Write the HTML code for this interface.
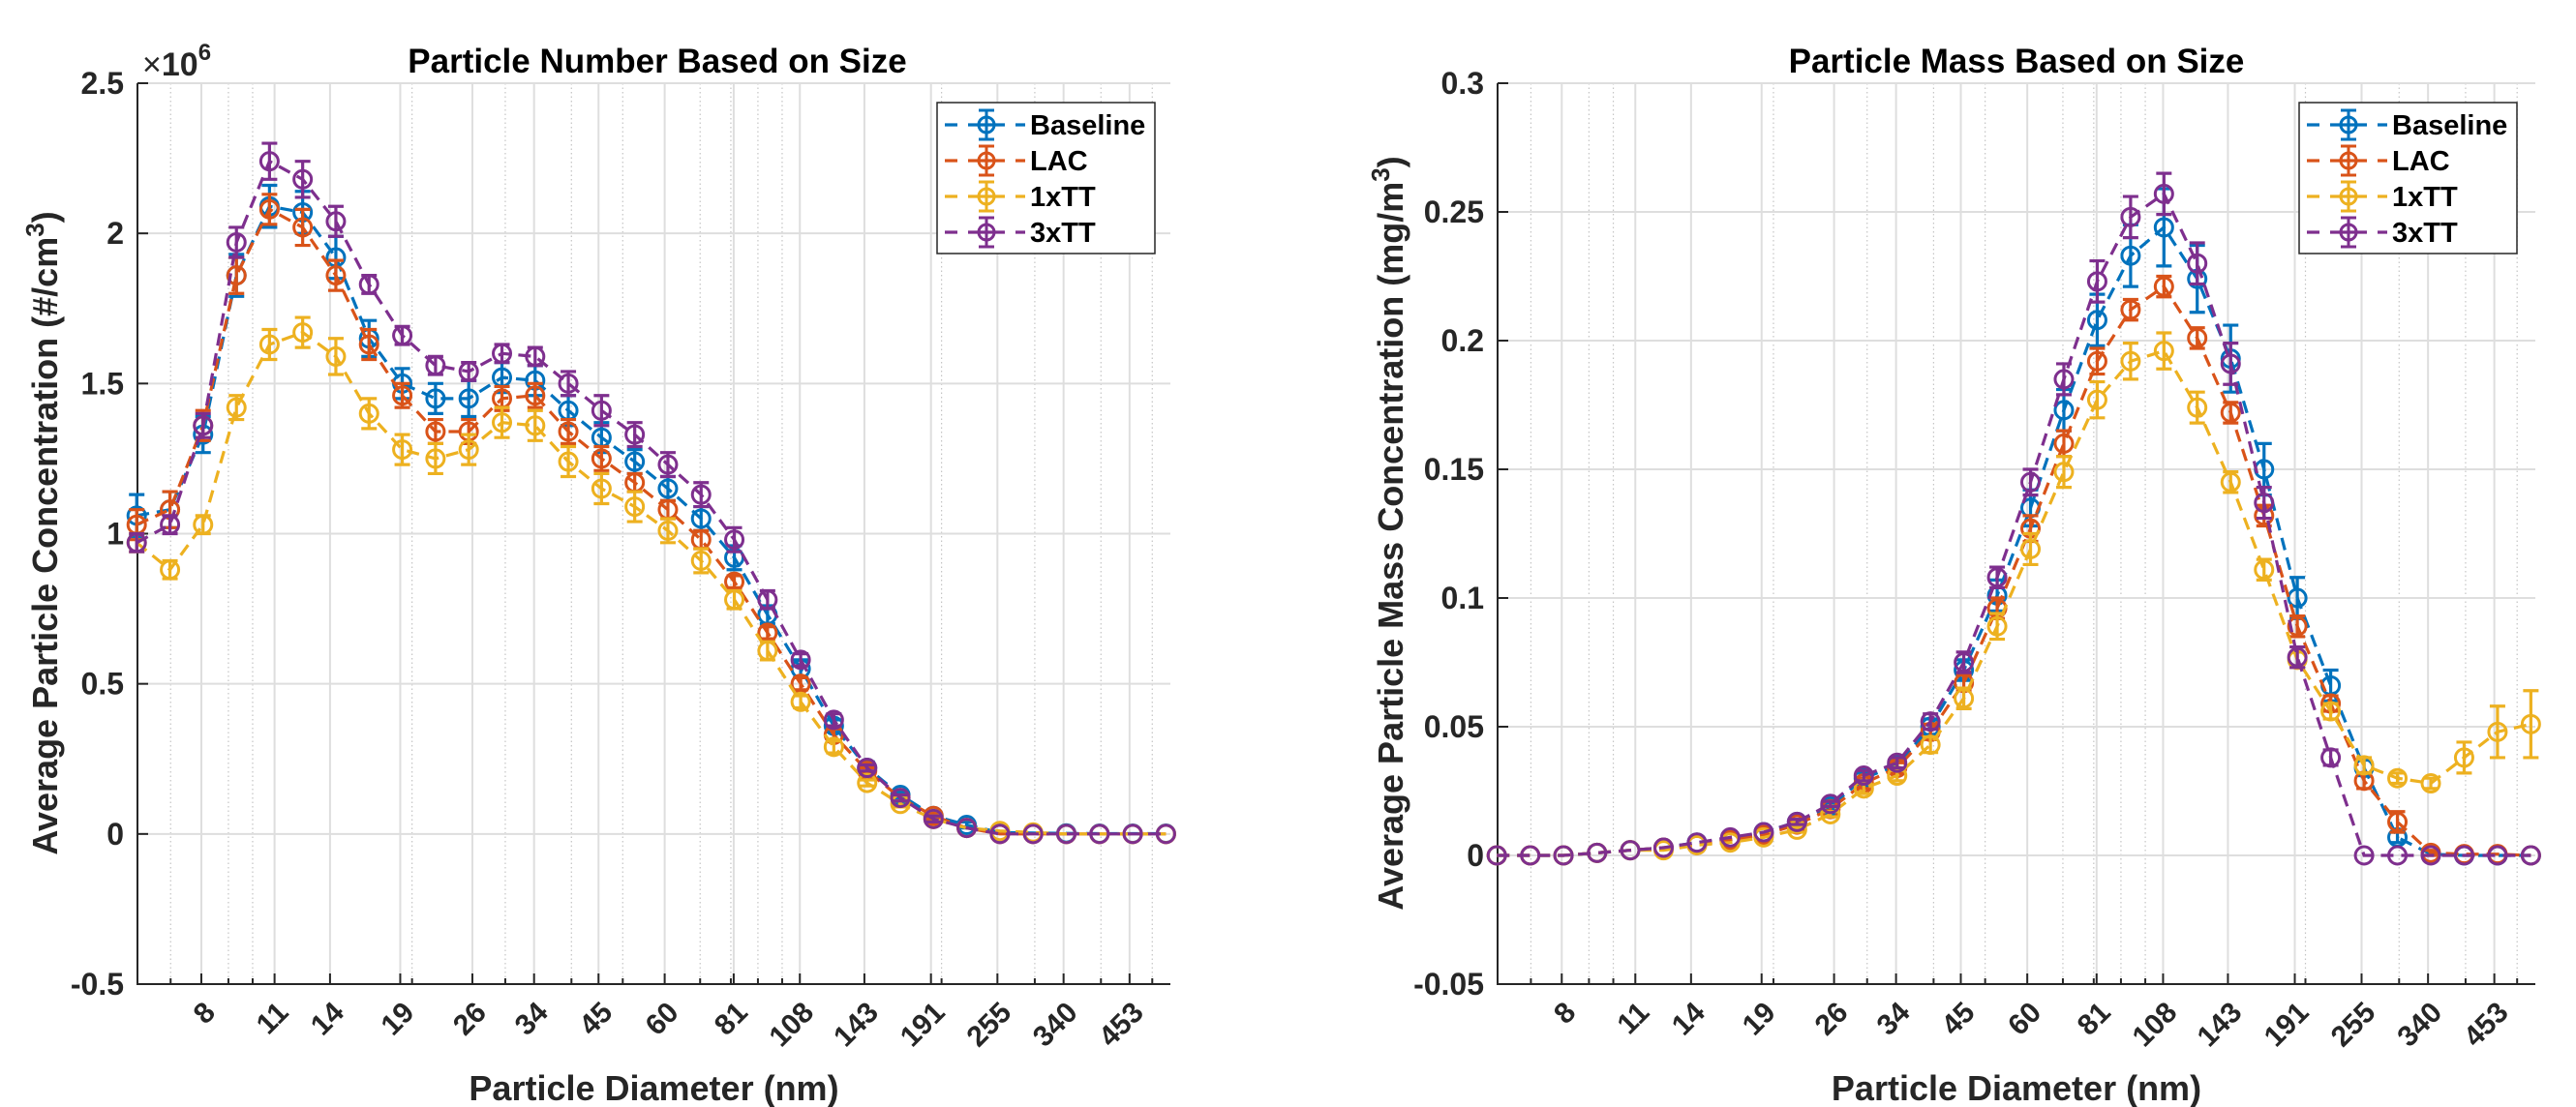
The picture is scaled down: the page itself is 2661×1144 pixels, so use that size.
<!DOCTYPE html>
<html><head><meta charset="utf-8"><style>
html,body{margin:0;padding:0;background:#fff}
svg{display:block;font-family:"Liberation Sans",Arial,sans-serif}
</style></head><body>
<svg id="fig" width="2661" height="1144" viewBox="0 0 2661 1144"></svg>
<script>
const diameters=[6.04,6.98,8.06,9.32,10.76,12.43,14.36,16.59,19.17,22.15,25.59,29.57,34.16,39.46,45.59,52.67,60.85,70.30,81.22,93.84,108.4,125.2,144.7,167.2,193.1,223.1,257.8,297.8,344.1,397.5,459.3,530.6];
const tickValues=[8,11,14,19,26,34,45,60,81,108,143,191,255,340,453];
const tickLabels=["8","11","14","19","26","34","45","60","81","108","143","191","255","340","453"];
const minorTicks=[7,9,10,20,30,40,50,70,80,90,100,200,300,400,500];
const seriesNames=["Baseline","LAC","1xTT","3xTT"];
const numBaseline=[1.06,1.08,1.33,1.86,2.09,2.07,1.92,1.65,1.50,1.45,1.45,1.52,1.51,1.41,1.32,1.24,1.15,1.05,0.92,0.73,0.55,0.36,0.22,0.13,0.06,0.03,0.005,0.003,0.002,0.001,0.001,0.001];
const numLAC=[1.03,1.08,1.36,1.86,2.08,2.02,1.86,1.63,1.46,1.34,1.34,1.45,1.46,1.34,1.25,1.17,1.08,0.98,0.84,0.67,0.50,0.33,0.21,0.12,0.06,0.02,0,0,0,0,0,0];
const num1xTT=[0.97,0.88,1.03,1.42,1.63,1.67,1.59,1.40,1.28,1.25,1.28,1.37,1.36,1.24,1.15,1.09,1.01,0.91,0.78,0.61,0.44,0.29,0.17,0.10,0.05,0.02,0.01,0.005,0,0,0,0];
const num3xTT=[0.97,1.03,1.36,1.97,2.24,2.18,2.04,1.83,1.66,1.56,1.54,1.60,1.59,1.50,1.41,1.33,1.23,1.13,0.98,0.78,0.58,0.38,0.22,0.12,0.05,0.02,0,0,0,0,0,0];
const numErrBaseline=[0.07,0.06,0.06,0.07,0.07,0.07,0.07,0.06,0.05,0.05,0.06,0.05,0.05,0.05,0.05,0.04,0.04,0.04,0.04,0.03,0.03,0.02,0.02,0.01,0.01,0.01,0,0,0,0,0,0];
const numErrLAC=[0.05,0.06,0.05,0.06,0.05,0.06,0.05,0.05,0.04,0.04,0.04,0.04,0.04,0.04,0.04,0.03,0.03,0.03,0.02,0.02,0.02,0.02,0.01,0.01,0.01,0,0,0,0,0,0,0];
const numErr1xTT=[0.03,0.03,0.03,0.04,0.05,0.05,0.06,0.05,0.05,0.05,0.05,0.05,0.05,0.05,0.05,0.05,0.04,0.04,0.03,0.03,0.02,0.02,0.01,0.01,0.01,0,0,0,0,0,0,0];
const numErr3xTT=[0.03,0.03,0.04,0.05,0.06,0.06,0.05,0.03,0.03,0.03,0.03,0.03,0.03,0.04,0.05,0.04,0.04,0.04,0.04,0.03,0.02,0.02,0.01,0.01,0.01,0,0,0,0,0,0,0];
const massBaseline=[0,0,0,0.001,0.002,0.003,0.005,0.006,0.009,0.013,0.019,0.030,0.035,0.050,0.072,0.101,0.135,0.173,0.208,0.233,0.244,0.224,0.193,0.150,0.100,0.066,0.034,0.007,0.0005,0,0,0];
const massLAC=[0,0,0,0.001,0.002,0.003,0.004,0.006,0.008,0.012,0.018,0.028,0.034,0.048,0.067,0.096,0.127,0.160,0.192,0.212,0.221,0.201,0.172,0.132,0.089,0.059,0.029,0.013,0.001,0.0005,0.0005,0];
const mass1xTT=[0,0,0,0.001,0.002,0.002,0.004,0.005,0.007,0.010,0.016,0.026,0.031,0.043,0.061,0.089,0.119,0.149,0.177,0.192,0.196,0.174,0.145,0.111,0.076,0.056,0.035,0.030,0.028,0.038,0.048,0.051];
const mass3xTT=[0,0,0,0.001,0.002,0.003,0.005,0.007,0.009,0.013,0.020,0.031,0.036,0.052,0.075,0.108,0.145,0.185,0.223,0.248,0.257,0.230,0.191,0.137,0.077,0.038,0,0,0,0,0,0];
const massErrBaseline=[0,0,0,0,0,0,0,0,0,0.001,0.001,0.002,0.002,0.003,0.004,0.006,0.007,0.008,0.010,0.012,0.015,0.013,0.013,0.010,0.008,0.006,0.003,0.002,0,0,0,0];
const massErrLAC=[0,0,0,0,0,0,0,0,0,0.001,0.001,0.002,0.002,0.003,0.003,0.004,0.005,0.005,0.005,0.004,0.004,0.004,0.004,0.004,0.004,0.003,0.003,0.004,0.001,0,0,0];
const massErr1xTT=[0,0,0,0,0,0,0,0,0,0.001,0.001,0.002,0.002,0.003,0.004,0.005,0.006,0.006,0.007,0.007,0.007,0.006,0.004,0.004,0.003,0.003,0.003,0.002,0.002,0.006,0.010,0.013];
const massErr3xTT=[0,0,0,0,0,0,0,0,0,0.001,0.001,0.002,0.002,0.003,0.004,0.004,0.005,0.006,0.008,0.008,0.008,0.008,0.008,0.006,0.004,0.003,0,0,0,0,0,0];
const yTicksNum=[-0.5,0,0.5,1,1.5,2,2.5];
const yTickLabelsNum=["-0.5","0","0.5","1","1.5","2","2.5"];
const yTicksMass=[-0.05,0,0.05,0.1,0.15,0.2,0.25,0.3];
const yTickLabelsMass=["-0.05","0","0.05","0.1","0.15","0.2","0.25","0.3"];
const colors=["#0072BD","#D95319","#EDB120","#7E2F8E"];

const NS="http://www.w3.org/2000/svg";
const svg=document.getElementById('fig');
function mk(tag,attrs,parent){const e=document.createElementNS(NS,tag);for(const k in attrs)e.setAttribute(k,attrs[k]);(parent||svg).appendChild(e);return e;}

function drawChart(cfg){
  const L=cfg.left,R=cfg.right,T=86,B=1017;
  const xmin=6.06,xmax=541;
  const xs=v=>L+(Math.log(v)-Math.log(xmin))/(Math.log(xmax)-Math.log(xmin))*(R-L);
  const ys=v=>B-(v-cfg.ymin)/(cfg.ymax-cfg.ymin)*(B-T);
  const g=mk('g',{});
  
  
  minorTicks.forEach(v=>{const x=xs(v);if(x<L||x>R)return;
    const l=mk('line',{x1:x,x2:x,y1:T,y2:B,stroke:'#c4c4c4','stroke-width':1.2,'stroke-dasharray':'1.5,3'},g);
    
    const t=mk('line',{x1:x,x2:x,y1:B,y2:B-6,stroke:'#262626','stroke-width':2},g);
    });
  tickValues.forEach((v,i)=>{const x=xs(v);
    const l=mk('line',{x1:x,x2:x,y1:T,y2:B,stroke:'#dedede','stroke-width':2},g);
    
    const t=mk('line',{x1:x,x2:x,y1:B,y2:B-11,stroke:'#262626','stroke-width':2},g);
    
    const lb=mk('text',{x:x+16,y:1048,'text-anchor':'end','font-size':30,'font-weight':'bold',fill:'#262626',transform:`rotate(-45 ${x+16} 1048)`},g);
    lb.textContent=tickLabels[i];
    });
  cfg.yTicks.forEach((v,i)=>{const y=ys(v);
    const l=mk('line',{x1:L,x2:R,y1:y,y2:y,stroke:'#dedede','stroke-width':2},g);
    
    const t=mk('line',{x1:L,x2:L+11,y1:y,y2:y,stroke:'#262626','stroke-width':2},g);
    
    const lb=mk('text',{x:L-14,y:y+11,'text-anchor':'end','font-size':32,'font-weight':'bold',fill:'#262626'},g);
    lb.textContent=cfg.yLabels[i];
    });
  const ax=mk('path',{d:`M${L},${T}V${B}H${R}`,fill:'none',stroke:'#262626','stroke-width':2},g);
  
  cfg.series.forEach((vals,s)=>{
    const sg=mk('g',{},g);
    
    
    const pts=vals.map((v,i)=>xs(diameters[i])+','+ys(v)).join(' ');
    const pl=mk('polyline',{points:pts,fill:'none',stroke:colors[s],'stroke-width':3.2,'stroke-dasharray':'13,8'},sg);
    
    vals.forEach((v,i)=>{const x=xs(diameters[i]);const e=cfg.errs[s][i];
      if(e>0){const y1=ys(v+e),y2=ys(v-e);
        const eb=mk('path',{d:`M${x},${y1}V${y2}M${x-8},${y1}H${x+8}M${x-8},${y2}H${x+8}`,stroke:colors[s],'stroke-width':3.2,fill:'none'},sg);
        }
      const c=mk('circle',{cx:x,cy:ys(v),r:9,fill:'none',stroke:colors[s],'stroke-width':3},sg);
      });
  });
  const cx=(L+R)/2;
  const tt=mk('text',{x:cfg.titleX,y:75,'text-anchor':'middle','font-size':35,'font-weight':'bold',fill:'#000'},g);
  tt.textContent=cfg.title;
  const xl=mk('text',{x:cx,y:1137,'text-anchor':'middle','font-size':36,'font-weight':'bold',fill:'#262626'},g);
  xl.textContent='Particle Diameter (nm)';
  const yl=mk('text',{x:cfg.ylX,y:551,'text-anchor':'middle','font-size':36,'font-weight':'bold',fill:'#262626',transform:`rotate(-90 ${cfg.ylX} 551)`},g);
  yl.innerHTML=cfg.ylabel;
  const lx=cfg.legX,ly=106;
  const lg=mk('g',{},g);
  mk('rect',{x:lx,y:ly,width:225,height:156,fill:'#fff',stroke:'#262626','stroke-width':1.5},lg);
  seriesNames.forEach((n,s)=>{const y=ly+23+s*37;
    const eg=mk('g',{},lg);
    mk('path',{d:`M${lx+8},${y}H${lx+21}M${lx+32},${y}H${lx+70}M${lx+81},${y}H${lx+91}`,stroke:colors[s],'stroke-width':3.2,fill:'none'},eg);
    mk('path',{d:`M${lx+51},${y-15}V${y+15}M${lx+43},${y-15}H${lx+59}M${lx+43},${y+15}H${lx+59}`,stroke:colors[s],'stroke-width':3,fill:'none'},eg);
    mk('circle',{cx:lx+51,cy:y,r:8,fill:'none',stroke:colors[s],'stroke-width':3},eg);
    const t=mk('text',{x:lx+96,y:y+10,'font-size':29,'font-weight':'bold',fill:'#000'},eg);t.textContent=n;});
}
drawChart({name:'number-chart',left:142,right:1209,ymin:-0.5,ymax:2.5,yTicks:yTicksNum,yLabels:yTickLabelsNum,
  series:[numBaseline,numLAC,num1xTT,num3xTT],errs:[numErrBaseline,numErrLAC,numErr1xTT,numErr3xTT],
  title:'Particle Number Based on Size',titleX:679,ylX:59,legX:968,
  ylabel:'Average Particle Concentration (#/cm<tspan dy="-14" font-size="26">3</tspan><tspan dy="14">)</tspan>'});
drawChart({name:'mass-chart',left:1547,right:2619,ymin:-0.05,ymax:0.3,yTicks:yTicksMass,yLabels:yTickLabelsMass,
  series:[massBaseline,massLAC,mass1xTT,mass3xTT],errs:[massErrBaseline,massErrLAC,massErr1xTT,massErr3xTT],
  title:'Particle Mass Based on Size',titleX:2083,ylX:1449,legX:2375,
  ylabel:'Average Particle Mass Concentration (mg/m<tspan dy="-14" font-size="26">3</tspan><tspan dy="14">)</tspan>'});
const ex=mk('text',{x:147,y:78,'font-size':34,fill:'#262626'});
ex.innerHTML='×<tspan font-weight="bold">10</tspan><tspan dy="-16" font-size="24" font-weight="bold">6</tspan>';


</script>
</body></html>
